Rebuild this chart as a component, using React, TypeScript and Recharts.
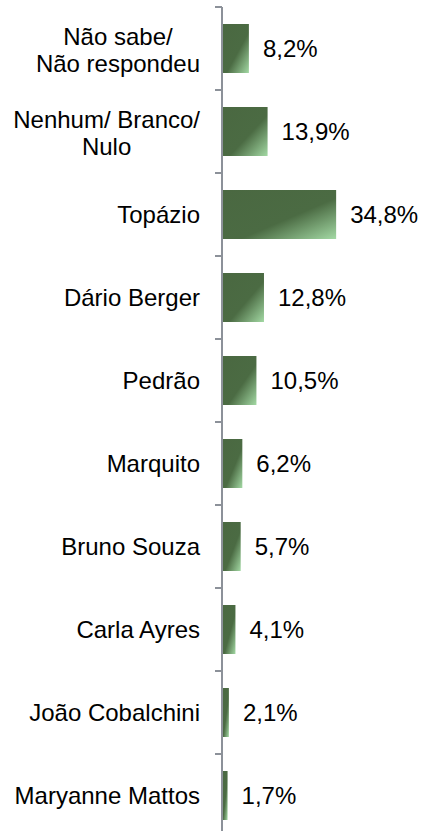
import { BarChart, Bar, XAxis, YAxis, LabelList } from 'recharts';

const categories = [
  'Não sabe/\nNão respondeu',
  'Nenhum/ Branco/\nNulo',
  'Topázio',
  'Dário Berger',
  'Pedrão',
  'Marquito',
  'Bruno Souza',
  'Carla Ayres',
  'João Cobalchini',
  'Maryanne Mattos',
];
const values = [8.2, 13.9, 34.8, 12.8, 10.5, 6.2, 5.7, 4.1, 2.1, 1.7];
const xDomain: [number, number] = [0, 40];

const data = categories.map((name, i) => ({ name, value: values[i] }));

const FONT = '"Liberation Sans", Arial, sans-serif';
const FONT_SIZE = 24;
const LINE_HEIGHT = 27;
const AXIS_COLOR = '#8c9199';
const TICK_SIZE = 7;
const TICK_MARGIN = 15;

let ctx: CanvasRenderingContext2D | null = null;
function textWidth(s: string) {
  if (!ctx) ctx = document.createElement('canvas').getContext('2d');
  if (!ctx) return s.length * FONT_SIZE * 0.55;
  ctx.font = `${FONT_SIZE}px ${FONT}`;
  return ctx.measureText(s).width;
}

function CategoryTick(props: any) {
  const { x, y, payload } = props;
  const lines = String(payload.value).split('\n');
  const half = payload.offset || 41.5;
  const axisX = x + TICK_MARGIN + TICK_SIZE;
  const maxW = Math.max(...lines.map(textWidth));
  const multi = lines.length > 1;
  return (
    <g>
      <line
        x1={axisX - TICK_SIZE}
        x2={axisX}
        y1={y - half}
        y2={y - half}
        stroke={AXIS_COLOR}
        strokeWidth={2}
      />
      {lines.map((line, i) => (
        <text
          key={i}
          x={multi ? x - maxW / 2 : x}
          y={y + (i - (lines.length - 1) / 2) * LINE_HEIGHT + (multi ? 2 : 0)}
          dy="0.35em"
          textAnchor={multi ? 'middle' : 'end'}
          fontFamily={FONT}
          fontSize={FONT_SIZE}
          fill="#000"
        >
          {line}
        </text>
      ))}
    </g>
  );
}

const fmt = (v: any) => `${Number(v).toFixed(1).replace('.', ',')}%`;

export default function App() {
  return (
    <div style={{ position: 'absolute', left: 0, top: 0, width: 422, height: 831, overflow: 'hidden', background: '#fff' }}>
      <BarChart
        width={422}
        height={840}
        data={data}
        layout="vertical"
        margin={{ top: 7, right: 68.8, bottom: 3, left: 0 }}
      >
        <defs>
          <linearGradient id="barGrad" x1="0" y1="0" x2="1" y2="1">
            <stop offset="0" stopColor="#4a6841" />
            <stop offset="0.58" stopColor="#4b6b43" />
            <stop offset="1" stopColor="#a3d9a4" />
          </linearGradient>
        </defs>
        <XAxis type="number" domain={xDomain} hide />
        <YAxis
          type="category"
          dataKey="name"
          width={222}
          tickLine={false}
          tickSize={TICK_SIZE}
          tickMargin={TICK_MARGIN}
          axisLine={{ stroke: AXIS_COLOR, strokeWidth: 2 }}
          tick={<CategoryTick />}
          interval={0}
        />
        <Bar dataKey="value" fill="url(#barGrad)" barSize={49} isAnimationActive={false}>
          <LabelList
            dataKey="value"
            position="right"
            offset={14}
            formatter={fmt}
            fill="#000"
            fontSize={FONT_SIZE}
            fontFamily={FONT}
          />
        </Bar>
      </BarChart>
    </div>
  );
}
